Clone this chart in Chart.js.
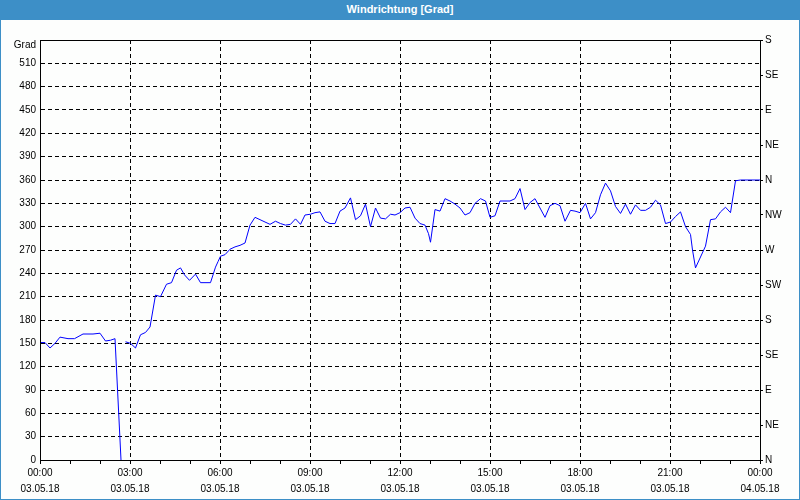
<!DOCTYPE html>
<html>
<head>
<meta charset="utf-8">
<script src="https://cdn.jsdelivr.net/npm/chart.js@4/dist/chart.umd.min.js"></script>
<style>
  html, body { margin: 0; padding: 0; background: #fdfefd; }
  #wrap { position: relative; width: 800px; height: 500px; overflow: hidden; background: #fdfefd; }
  #bar { position: absolute; left: 0; top: 0; width: 800px; height: 20px; background: #3d8fc7;
         color: #fff; font: bold 11px "Liberation Sans", Arial, sans-serif; text-align: center; line-height: 19px; }
  #frame { position: absolute; left: 0; top: 0; width: 800px; height: 500px; box-sizing: border-box;
           border: 1px solid #3d8fc7; pointer-events: none; }
  canvas { position: absolute; left: 0; top: 0; }
</style>
</head>
<body>
<div id="wrap">
  <canvas id="c" width="800" height="500"></canvas>
  <div id="bar">Windrichtung [Grad]</div>
  <div id="frame"></div>
</div>
<script>
// time in minutes since 03.05.18 00:00
const times = [0, 10, 20, 30, 40, 56, 69, 86, 106, 120, 131, 141, 150, 162, 166,
  171, 181, 191, 201, 211, 220, 231, 241, 253, 263, 273, 281, 289, 299, 311, 321, 341, 351, 356, 361,
  370, 380, 390, 400, 410, 420, 430, 440, 450, 460, 471, 481, 491, 501, 511, 521, 530, 541, 550, 560,
  570, 580, 590, 600, 610, 621, 631, 641, 651, 661, 671, 681, 691, 701, 710, 720, 730, 740, 750, 760,
  770, 777, 781, 790, 800, 810, 820, 830, 840, 850, 860, 870, 881, 891, 900, 910, 920, 930, 940, 950,
  960, 970, 980, 990, 1000, 1010, 1020, 1030, 1040, 1050, 1061, 1070, 1080, 1091, 1101, 1111, 1121, 1131,
  1141, 1151, 1161, 1171, 1181, 1191, 1201, 1211, 1221, 1231, 1241, 1251, 1261, 1271, 1281, 1291, 1301,
  1305, 1311, 1321, 1331, 1341, 1351, 1361, 1371, 1381, 1391, 1401, 1440];
// wind direction in degrees (null = missing)
const values = [151, 151, 144, 150, 158, 156, 156, 162, 162, 163, 153, 154, 156, 0, null,
  152, 150, 144, 161, 164, 171, 212, 210, 226, 228, 244, 247, 238, 231, 239, 228, 228, 248, 255, 262,
  264, 271, 274, 276, 279, 302, 312, 309, 306, 303, 307, 304, 302, 303, 310, 303, 315, 316, 318, 319,
  307, 304, 304, 320, 324, 337, 309, 314, 329, 300, 324, 311, 310, 316, 315, 318, 324, 325, 311, 304,
  302, 291, 280, 322, 320, 336, 333, 329, 324, 315, 318, 330, 336, 333, 312, 314, 333, 333, 333, 336,
  349, 322, 331, 336, 324, 312, 327, 330, 327, 307, 321, 320, 318, 330, 310, 318, 341, 356,
  346, 326, 317, 329, 316, 328, 321, 321, 325, 334, 328, 304, 306, 313, 319, 300, 290,
  270, 247, 261, 275, 309, 310, 319, 325, 318, 359, 360, 360];

const xTickLabels = ['00:00', '03:00', '06:00', '09:00', '12:00', '15:00', '18:00', '21:00', '00:00'];
const xDateLabels = ['03.05.18', '03.05.18', '03.05.18', '03.05.18', '03.05.18', '03.05.18', '03.05.18', '03.05.18', '04.05.18'];
const compassLabels = ['N', 'NE', 'E', 'SE', 'S', 'SW', 'W', 'NW', 'N', 'NE', 'E', 'SE', 'S'];
const yUnitLabel = 'Grad';

const points = times.map((t, i) => ({ x: t, y: values[i] }));
const tickFont = { family: '"Liberation Sans", Arial, sans-serif', size: 10 };

const framePlugin = {
  id: 'frame',
  afterDraw(chart) {
    const { ctx, chartArea: a } = chart;
    ctx.save();
    ctx.strokeStyle = '#000';
    ctx.lineWidth = 1;
    ctx.strokeRect(Math.round(a.left) + 0.5, Math.round(a.top) + 0.5,
      Math.round(a.right - a.left), Math.round(a.bottom - a.top));
    ctx.restore();
  }
};

new Chart(document.getElementById('c'), {
  type: 'line',
  data: {
    datasets: [{
      data: points,
      borderColor: '#0000ff',
      borderWidth: 1,
      pointRadius: 0,
      tension: 0,
      spanGaps: false,
      yAxisID: 'y'
    }]
  },
  options: {
    responsive: false,
    animation: false,
    devicePixelRatio: 1,
    layout: { padding: { top: 40, left: 0, right: 0, bottom: 0 } },
    plugins: { legend: { display: false }, tooltip: { enabled: false }, title: { display: false } },
    scales: {
      x: {
        type: 'linear', min: 0, max: 1440,
        afterFit: s => { s.height = 40; },
        afterBuildTicks: s => { s.ticks = []; for (let v = 0; v <= 1440; v += 60) s.ticks.push({ value: v }); },
        ticks: {
          autoSkip: false, maxRotation: 0, minRotation: 0, padding: 1, color: '#000',
          font: { ...tickFont, lineHeight: 1.6 },
          callback: v => v % 180 === 0 ? [xTickLabels[v / 180], xDateLabels[v / 180]] : ''
        },
        grid: {
          color: c => (c.tick && c.tick.value % 180 === 0 && c.tick.value > 0 && c.tick.value < 1440) ? '#000' : 'rgba(0,0,0,0)',
          tickColor: '#000', tickLength: 4, lineWidth: 1
        },
        border: { display: true, color: '#000', dash: [4, 3] }
      },
      y: {
        type: 'linear', position: 'left', min: 0, max: 540,
        afterFit: s => { s.width = 40; },
        ticks: {
          stepSize: 30, padding: 4, color: '#000', font: { ...tickFont, lineHeight: 1.0 },
          callback: v => v === 540 ? ['', yUnitLabel] : String(v)
        },
        grid: {
          drawTicks: false,
          color: c => (c.tick && c.tick.value > 0 && c.tick.value < 540) ? '#000' : 'rgba(0,0,0,0)'
        },
        border: { display: true, color: '#000', dash: [4, 3] }
      },
      y2: {
        type: 'linear', position: 'right', min: 0, max: 540,
        afterFit: s => { s.width = 40; },
        afterBuildTicks: s => { s.ticks = []; for (let v = 0; v <= 540; v += 45) s.ticks.push({ value: v }); },
        ticks: {
          autoSkip: false, padding: 2, color: '#000', font: tickFont,
          callback: v => compassLabels[Math.round(v / 45)]
        },
        grid: { drawOnChartArea: false, tickColor: '#000', tickLength: 3 },
        border: { display: true, color: '#000' }
      }
    }
  },
  plugins: [framePlugin]
});
</script>
</body>
</html>
